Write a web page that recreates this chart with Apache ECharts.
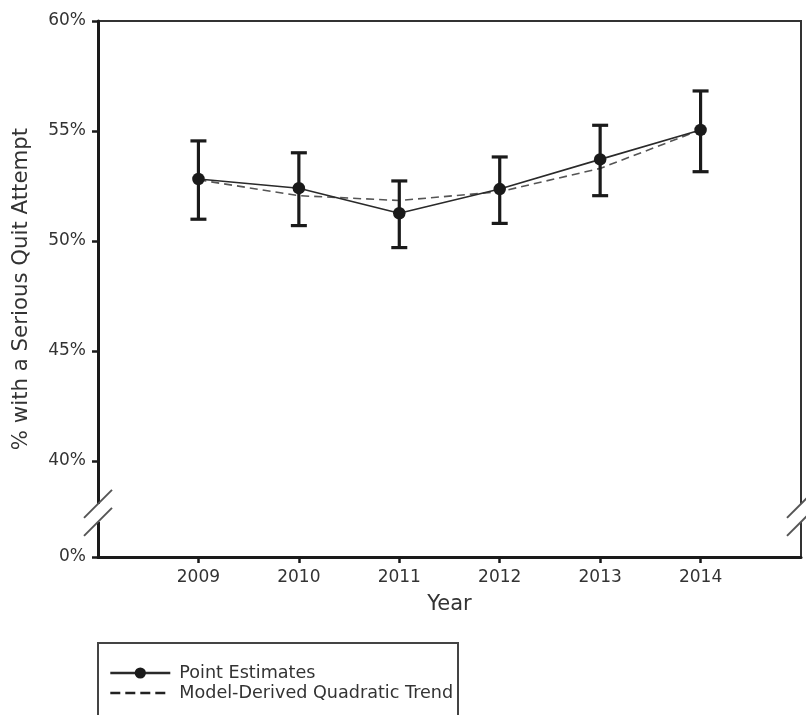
<!DOCTYPE html>
<html>
<head>
<meta charset="utf-8">
<script src="https://cdn.jsdelivr.net/npm/echarts@6/dist/echarts.min.js"></script>
<style>
  html, body { margin: 0; padding: 0; background: #fff; }
  #main { width: 806px; height: 715px; }
</style>
</head>
<body>
<div id="main"></div>
<script>
// data (percent)
var years = [2009, 2010, 2011, 2012, 2013, 2014];
var pointEst = [52.82, 52.40, 51.26, 52.36, 53.71, 55.05];
var ciLow = [50.99, 50.70, 49.70, 50.80, 52.06, 53.15];
var ciHigh = [54.55, 54.01, 52.73, 53.82, 55.26, 56.82];
var quadTrend = [52.78, 52.06, 51.84, 52.24, 53.30, 55.05];
var yTickValues = [40, 45, 50, 55, 60];
var yBottom = 35.636;   // stands for the "0%" tick below the break
var breakValue = 37.64;

var font = '"DejaVu Sans", sans-serif';
var txt = '#333';

var myChart = echarts.init(document.getElementById('main'));

function zip(xs, vs) {
    return vs.map(function (v, i) { return [xs[i], v]; });
}

var errData = years.map(function (y, i) { return [y, ciLow[i], ciHigh[i]]; });

var option = {
    backgroundColor: '#fff',
    animation: false,
    grid: {
        left: 98, right: 5, top: 21, bottom: 158,
        show: true, borderColor: '#333', borderWidth: 2
    },
    xAxis: {
        type: 'value',
        min: 2008, max: 2015,
        name: 'Year',
        nameLocation: 'middle',
        nameGap: 37,
        nameTextStyle: { fontFamily: font, fontSize: 21, color: txt },
        splitLine: { show: false },
        axisLine: { show: true, onZero: false, lineStyle: { color: '#1a1a1a', width: 3 } },
        axisTick: { show: true, length: 6, lineStyle: { color: '#1a1a1a', width: 2.5 }, customValues: years },
        axisLabel: {
            customValues: years, margin: 12,
            fontFamily: font, fontSize: 17, color: txt,
            formatter: function (v) { return String(v); }
        }
    },
    yAxis: {
        type: 'value',
        min: yBottom, max: 60,
        name: '% with a Serious Quit Attempt',
        nameLocation: 'middle',
        nameRotate: 90,
        nameGap: 66,
        nameTextStyle: { fontFamily: font, fontSize: 21.3, color: txt },
        splitLine: { show: false },
        axisLine: { show: true, onZero: false, lineStyle: { color: '#1a1a1a', width: 3 } },
        axisTick: { show: true, length: 6, lineStyle: { color: '#1a1a1a', width: 2.5 }, customValues: [yBottom].concat(yTickValues) },
        axisLabel: {
            customValues: [yBottom].concat(yTickValues), margin: 12,
            fontFamily: font, fontSize: 17, color: txt,
            formatter: function (v) { return v < 39 ? '0%' : Math.round(v) + '%'; }
        }
    },
    legend: {
        orient: 'vertical',
        left: 104, top: 659,
        itemWidth: 60, itemHeight: 14, itemGap: 2,
        lineStyle: { width: 2.6 },
        textStyle: { fontFamily: font, fontSize: 17.6, color: txt, padding: [0, 0, 0, 4] },
        data: [
            { name: 'Point Estimates' },
            { name: 'Model-Derived Quadratic Trend', lineStyle: { type: [10, 5], width: 2.6, color: '#222' } }
        ]
    },
    series: [
        {
            name: 'Model-Derived Quadratic Trend',
            type: 'line',
            data: zip(years, quadTrend),
            symbol: 'circle',
            showSymbol: false,
            lineStyle: { color: '#555', width: 1.6, type: [8, 5] },
            itemStyle: { color: 'rgba(0,0,0,0)', borderWidth: 0 },
            z: 2
        },
        {
            name: 'error',
            type: 'custom',
            data: errData,
            z: 3,
            renderItem: function (params, api) {
                var lo = api.coord([api.value(0), api.value(1)]);
                var hi = api.coord([api.value(0), api.value(2)]);
                var cap = 8;
                var st = { stroke: '#1a1a1a', lineWidth: 3.2 };
                return {
                    type: 'group',
                    children: [
                        { type: 'line', shape: { x1: lo[0], y1: lo[1], x2: hi[0], y2: hi[1] }, style: st },
                        { type: 'line', shape: { x1: lo[0] - cap, y1: lo[1], x2: lo[0] + cap, y2: lo[1] }, style: st },
                        { type: 'line', shape: { x1: hi[0] - cap, y1: hi[1], x2: hi[0] + cap, y2: hi[1] }, style: st }
                    ]
                };
            }
        },
        {
            name: 'Point Estimates',
            type: 'line',
            data: zip(years, pointEst),
            symbol: 'circle',
            symbolSize: 12.5,
            lineStyle: { color: '#2a2a2a', width: 1.6 },
            itemStyle: { color: '#1a1a1a' },
            z: 4
        }
    ]
};
myChart.setOption(option);

// axis break marks and the open legend frame
var yb = myChart.convertToPixel({ yAxisIndex: 0 }, breakValue);
var xl = myChart.convertToPixel({ xAxisIndex: 0 }, 2008);
var xr = myChart.convertToPixel({ xAxisIndex: 0 }, 2015);

function breakMark(x) {
    var sl = { stroke: '#555', lineWidth: 2 };
    return [
        { type: 'rect', shape: { x: x - 4, y: yb - 9, width: 8, height: 18 }, style: { fill: '#fff' }, z: 100 },
        { type: 'line', shape: { x1: x - 14, y1: yb + 5, x2: x + 14, y2: yb - 23 }, style: sl, z: 101 },
        { type: 'line', shape: { x1: x - 14, y1: yb + 23, x2: x + 14, y2: yb - 5 }, style: sl, z: 101 }
    ];
}

myChart.setOption({
    graphic: breakMark(xl).concat(breakMark(xr)).concat([
        {
            type: 'polyline',
            shape: { points: [[98, 716], [98, 643], [458, 643], [458, 716]] },
            style: { stroke: '#444', lineWidth: 2, fill: null },
            z: 100
        }
    ])
});
</script>
</body>
</html>
